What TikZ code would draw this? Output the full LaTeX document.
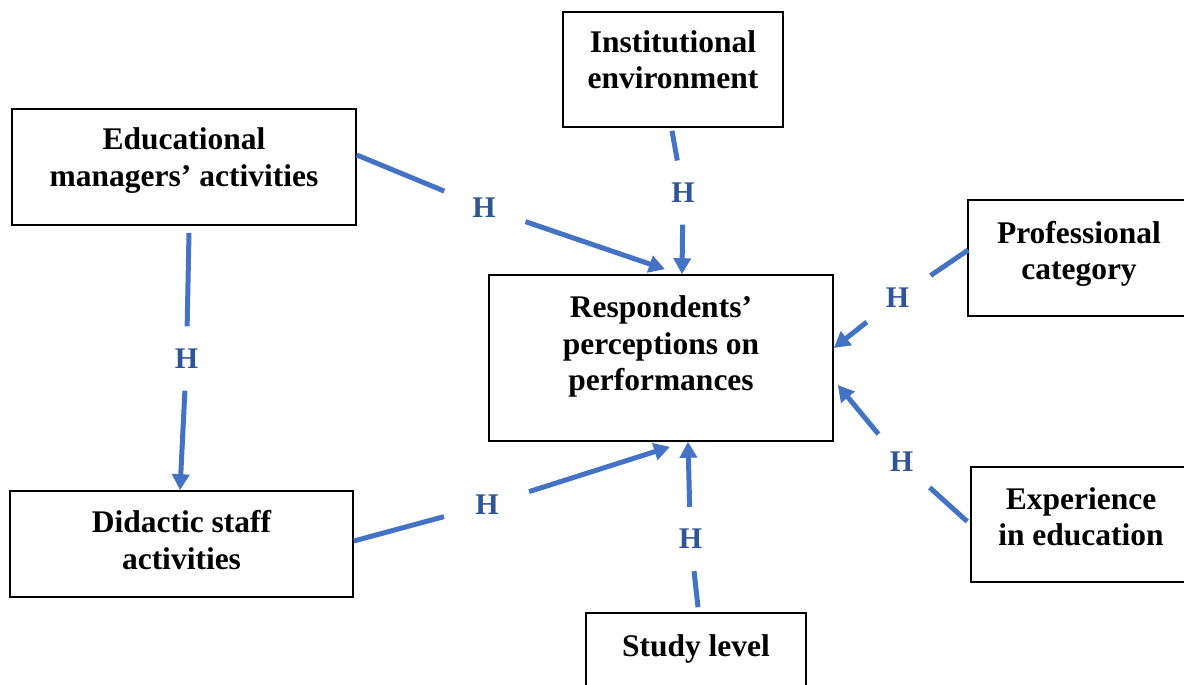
\documentclass[tikz,border=0pt]{standalone}
\usepackage{fontspec}
\setmainfont{Liberation Serif}
\usetikzlibrary{arrows.meta,calc,shapes.geometric}
\definecolor{linkblue}{HTML}{4472C4}
\definecolor{hblue}{HTML}{2F5597}
\newcommand{\lift}[1]{\rule[-#1]{0pt}{#1}}

\begin{document}
\begin{tikzpicture}[x=1pt,y=-1pt,
  box/.style={draw, line width=1.6pt, align=center, inner sep=0pt,
    font=\fontsize{31.5}{36.5}\selectfont\bfseries},
  hyp/.style={ellipse, minimum width=92pt, minimum height=64pt, inner sep=0pt,
    text=hblue, font=\fontsize{30}{30}\selectfont\bfseries},
  link/.style={draw=linkblue, line width=5pt},
  tip/.style={-{Triangle[length=16pt,width=17pt]}}]

\useasboundingbox (0,0) rectangle (1184,685);
\clip (0,0) rectangle (1184,685);

\node[box, minimum width=344pt, minimum height=116pt] (em) at (184,167) {Educational\\managers’ activities\lift{20pt}};
\node[box, minimum width=220pt, minimum height=115pt] (ie) at (673,69.5) {Institutional\\environment\lift{20pt}};
\node[box, minimum width=222pt, minimum height=116pt] (pc) at (1079,258) {Professional\\category\lift{15pt}};
\node[box, minimum width=344pt, minimum height=166pt] (rp) at (661,358) {Respondents’\\perceptions on\\performances\lift{29pt}};
\node[box, minimum width=343pt, minimum height=106pt] (ds) at (181.5,544) {Didactic staff\\activities\lift{8pt}};
\node[box, minimum width=220pt, minimum height=115pt] (ee) at (1081,524.5) {Experience\\in education\lift{16pt}};
\node[box, minimum width=220pt, minimum height=114pt] (sl) at (696,670) {Study level\lift{49pt}};

% hypothesis labels
\node[hyp] (h1) at (484,207.5) {H};
\node[hyp] (h2) at (683,192.5) {H};
\node[hyp] (h3) at (186.5,358.5) {H};
\node[hyp] (h4) at (897.5,298) {H};
\node[hyp] (h5) at (901.5,462) {H};
\node[hyp] (h6) at (487,505) {H};
\node[hyp] (h7) at (690.5,539) {H};

% where the links leave and reach the boxes
\coordinate (em-o1) at ($(em.east)+(0,-12)$);
\coordinate (em-o2) at ($(em.south)+(5,7)$);
\coordinate (ie-o) at ($(ie.south)+(-1,3)$);
\coordinate (pc-o) at ($(pc.west)+(1,-8)$);
\coordinate (ee-o) at ($(ee.west)+(-3,-3)$);
\coordinate (ds-o) at ($(ds.east)+(0,-3)$);
\coordinate (sl-o) at ($(sl.north)+(2,-5)$);
\coordinate (rp-t1) at ($(rp.north)+(4,-5)$);
\coordinate (rp-t2) at ($(rp.north)+(21,0)$);
\coordinate (ds-t) at ($(ds.north)+(-1.5,0)$);
\coordinate (rp-t4) at ($(rp.east)+(0,-10)$);
\coordinate (rp-t5) at ($(rp.east)+(4,27)$);
\coordinate (rp-t6) at ($(rp.south)+(9,5)$);
\coordinate (rp-t7) at ($(rp.south)+(27,0)$);

\foreach \s/\h/\d in {em-o1/h1/rp-t1,ie-o/h2/rp-t2,em-o2/h3/ds-t,pc-o/h4/rp-t4,ee-o/h5/rp-t5,ds-o/h6/rp-t6,sl-o/h7/rp-t7} {
  \draw[link] (\s) -- (\h);
  \draw[link,tip] (\h) -- (\d);
}

\end{tikzpicture}
\end{document}
